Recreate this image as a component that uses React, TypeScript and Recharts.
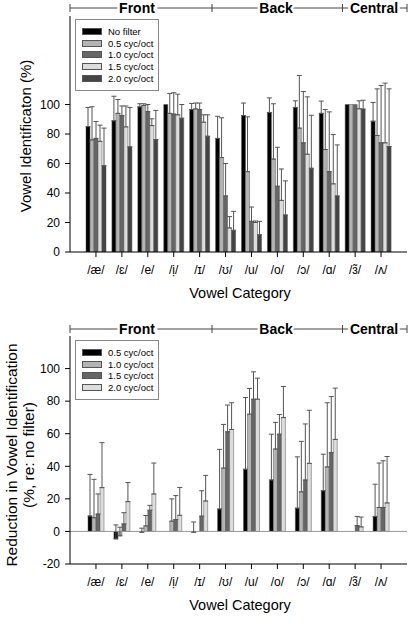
import { BarChart, Bar, XAxis, YAxis, ErrorBar, ReferenceLine, Legend } from 'recharts';

const FONT = '"Liberation Sans", Arial, sans-serif';

const vowels = ['/æ/', '/ɛ/', '/e/', '/ị/', '/ɪ/', '/ʊ/', '/u/', '/o/', '/ɔ/', '/ɑ/', '/ɜ̃/', '/ʌ/'];

// top panel: identification (%) and top of each error bar
const noFilter = [85, 89, 98.4, 100, 96.6, 77, 92.5, 94.6, 98, 94, 100, 88.7];
const noFilterTop = [98, 105.6, 100.5, 100, 100.7, 92, 101, 104.5, 102.5, 102.3, 100, 101.4];
const id05 = [76, 94, 99.3, 94, 97, 64, 54.5, 63, 84, 69.5, 100, 79];
const id05Top = [98.5, 103.4, 100.5, 107.5, 101, 91, 91.6, 100.5, 119.7, 96.6, 100, 110.6];
const id10 = [77, 92.5, 95.2, 93.5, 96.6, 38, 20.8, 44.6, 74, 54.5, 100, 74];
const id10Top = [88.5, 99, 100, 108, 101, 60, 30.5, 71, 108.8, 95, 100, 112.9];
const id15 = [75, 84.8, 85.7, 93, 88, 16.3, 20, 35, 66.3, 46.2, 97.1, 74];
const id15Top = [86, 99, 90.3, 107, 93, 24, 21, 56.3, 105.2, 79.6, 102.5, 114.5];
const id20 = [58.5, 71.3, 76.2, 90.7, 78.5, 14.7, 11.7, 25.1, 56.8, 38, 96.9, 71.5];
const id20Top = [84, 98, 96, 100, 93, 27.6, 20.8, 48.2, 92.7, 72.6, 102.9, 110.6];

// bottom panel: reduction (%, re: no filter)
const red05 = [9.5, -4.6, -0.5, 0, -0.5, 13.8, 38.2, 31.6, 14.3, 25, 0, 9.2];
const red05Top = [35, 4, 2, 19.5, 5.8, 50.4, 82.2, 59.7, 45.8, 47.4, 0, 29];
const red10 = [8.4, -2.7, 3.4, 6.3, 0, 38.9, 72, 50.6, 24.3, 39.6, 0, 14.7];
const red10Top = [32, 2.6, 9.8, 20, 5.8, 65.7, 87.8, 67, 55.3, 79, 0, 42];
const red15 = [10.7, 4.6, 13, 7.3, 9.4, 61.2, 81.2, 59.7, 31.6, 48.4, 3.6, 14.7];
const red15Top = [23, 11.5, 16, 22, 25, 77.6, 98, 71.8, 66, 82.8, 9.2, 43.4];
const red20 = [26.9, 18.3, 23, 9.9, 18.7, 62.6, 81.2, 69.9, 41.8, 56.5, 2.8, 17.5];
const red20Top = [54.5, 30, 42, 27, 34.4, 79, 94.1, 89, 74.4, 88, 8.8, 46];

const topTicks = [0, 20, 40, 60, 80, 100];
const bottomTicks = [-20, 0, 20, 40, 60, 80, 100];

type Series = { key: string; name: string; values: number[]; tops: number[]; color: string };

const topSeries: Series[] = [
  { key: 'nf', name: 'No filter', values: noFilter, tops: noFilterTop, color: '#000000' },
  { key: 'c05', name: '0.5 cyc/oct', values: id05, tops: id05Top, color: '#b4b4b4' },
  { key: 'c10', name: '1.0 cyc/oct', values: id10, tops: id10Top, color: '#666666' },
  { key: 'c15', name: '1.5 cyc/oct', values: id15, tops: id15Top, color: '#dddddd' },
  { key: 'c20', name: '2.0 cyc/oct', values: id20, tops: id20Top, color: '#444444' },
];

const bottomSeries: Series[] = [
  { key: 'c05', name: '0.5 cyc/oct', values: red05, tops: red05Top, color: '#000000' },
  { key: 'c10', name: '1.0 cyc/oct', values: red10, tops: red10Top, color: '#b4b4b4' },
  { key: 'c15', name: '1.5 cyc/oct', values: red15, tops: red15Top, color: '#666666' },
  { key: 'c20', name: '2.0 cyc/oct', values: red20, tops: red20Top, color: '#dddddd' },
];

function buildRows(series: Series[]) {
  return vowels.map((vowel, i) => {
    const row: Record<string, any> = { vowel };
    series.forEach((s) => {
      row[s.key] = s.values[i];
      const up = s.tops[i] - s.values[i];
      row[s.key + 'Err'] = up > 0 ? [0, up] : null;
    });
    return row;
  });
}

const topData = buildRows(topSeries);
const bottomData = buildRows(bottomSeries);

const legendBox = (series: Series[]) => () => (
  <div
    style={{
      border: '1px solid #888',
      background: '#fff',
      padding: '6px 4px 6px 6px',
      width: 84,
      boxSizing: 'border-box',
      fontFamily: FONT,
      fontSize: 9.5,
      color: '#000',
      whiteSpace: 'nowrap',
    }}
  >
    {series.map((s) => (
      <div key={s.key} style={{ display: 'flex', alignItems: 'center', height: 11.6 }}>
        <span
          style={{
            display: 'inline-block',
            flex: 'none',
            width: 18,
            height: 5,
            background: s.color,
            border: '1px solid #555',
            marginRight: 6,
          }}
        />
        {s.name}
      </div>
    ))}
  </div>
);

const tickStyle = { fontFamily: FONT, fontSize: 12, fill: '#000' };

function Panel({ data, series, domain, ticks, top, height, legendTop, zeroLine }: any) {
  return (
    <div style={{ position: 'absolute', left: 0, top }}>
      <BarChart
        width={408}
        height={height}
        data={data}
        margin={{ top: 16, right: 1, bottom: 28, left: 0 }}
        barSize={4}
        barGap={0}
      >
        <XAxis
          dataKey="vowel"
          interval={0}
          padding={{ left: 13, right: 13 }}
          tickSize={5}
          tickMargin={8}
          height={30}
          tick={tickStyle}
          axisLine={{ stroke: '#000' }}
          tickLine={{ stroke: '#000' }}
        />
        <XAxis xAxisId="frame" orientation="top" height={0} tick={false} tickLine={false} axisLine={{ stroke: '#000' }} />
        <YAxis
          domain={domain}
          ticks={ticks}
          allowDataOverflow
          width={70}
          tickSize={5}
          tickMargin={5}
          tick={tickStyle}
          axisLine={{ stroke: '#000' }}
          tickLine={{ stroke: '#000' }}
        />
        <YAxis yAxisId="frame" orientation="right" width={0} tick={false} tickLine={false} axisLine={{ stroke: '#000' }} />
        {zeroLine && <ReferenceLine y={0} stroke="#999" />}
        <Legend
          layout="vertical"
          align="center"
          verticalAlign="middle"
          wrapperStyle={{ top: legendTop, left: 75, width: 84 }}
          content={legendBox(series)}
        />
        {series.map((s: Series) => (
          <Bar key={s.key} dataKey={s.key} name={s.name} fill={s.color} stroke="#555" strokeWidth={0.5} isAnimationActive={false}>
            <ErrorBar dataKey={s.key + 'Err'} width={2.5} stroke="#555" strokeWidth={1} direction="y" />
          </Bar>
        ))}
      </BarChart>
    </div>
  );
}

function GroupHeader({ y }: { y: number }) {
  const marks = [70, 212, 342.5, 407];
  const labels = [
    { text: 'Front', x: 137 },
    { text: 'Back', x: 276 },
    { text: 'Central', x: 374 },
  ];
  return (
    <g>
      <line x1={70} x2={407} y1={y} y2={y} stroke="#444" />
      {marks.map((m) => (
        <line key={m} x1={m} x2={m} y1={y - 4} y2={y + 4} stroke="#444" />
      ))}
      {labels.map((l) => (
        <text
          key={l.text}
          x={l.x}
          y={y + 5}
          textAnchor="middle"
          fontFamily={FONT}
          fontWeight="bold"
          fontSize={14}
          stroke="#fff"
          strokeWidth={5}
          paintOrder="stroke"
          fill="#000"
        >
          {l.text}
        </text>
      ))}
    </g>
  );
}

export default function App() {
  return (
    <div style={{ position: 'absolute', left: 0, top: 0, width: 408, height: 622, background: '#fff' }}>
      <Panel data={topData} series={topSeries} domain={[0, 160]} ticks={topTicks} top={0} height={310} legendTop={19} />
      <Panel
        data={bottomData}
        series={bottomSeries}
        domain={[-20, 120]}
        ticks={bottomTicks}
        top={320}
        height={302}
        legendTop={20}
        zeroLine
      />
      <svg width={408} height={622} style={{ position: 'absolute', left: 0, top: 0, pointerEvents: 'none' }}>
        <GroupHeader y={8} />
        <GroupHeader y={329} />
        <g fontFamily={FONT} fill="#000">
          <text x={25} y={136} fontSize={15} textAnchor="middle" dominantBaseline="central" transform="rotate(-90 25 136)">
            Vowel Identificaton (%)
          </text>
          <text x={240} y={293} fontSize={14.5} textAnchor="middle" dominantBaseline="central">
            Vowel Category
          </text>
          <text x={11} y={455} fontSize={15.5} textAnchor="middle" dominantBaseline="central" transform="rotate(-90 11 455)">
            Reduction in Vowel Identification
          </text>
          <text x={28} y={455} fontSize={15.5} textAnchor="middle" dominantBaseline="central" transform="rotate(-90 28 455)">
            (%, re: no filter)
          </text>
          <text x={240} y={605} fontSize={14.5} textAnchor="middle" dominantBaseline="central">
            Vowel Category
          </text>
        </g>
      </svg>
    </div>
  );
}
